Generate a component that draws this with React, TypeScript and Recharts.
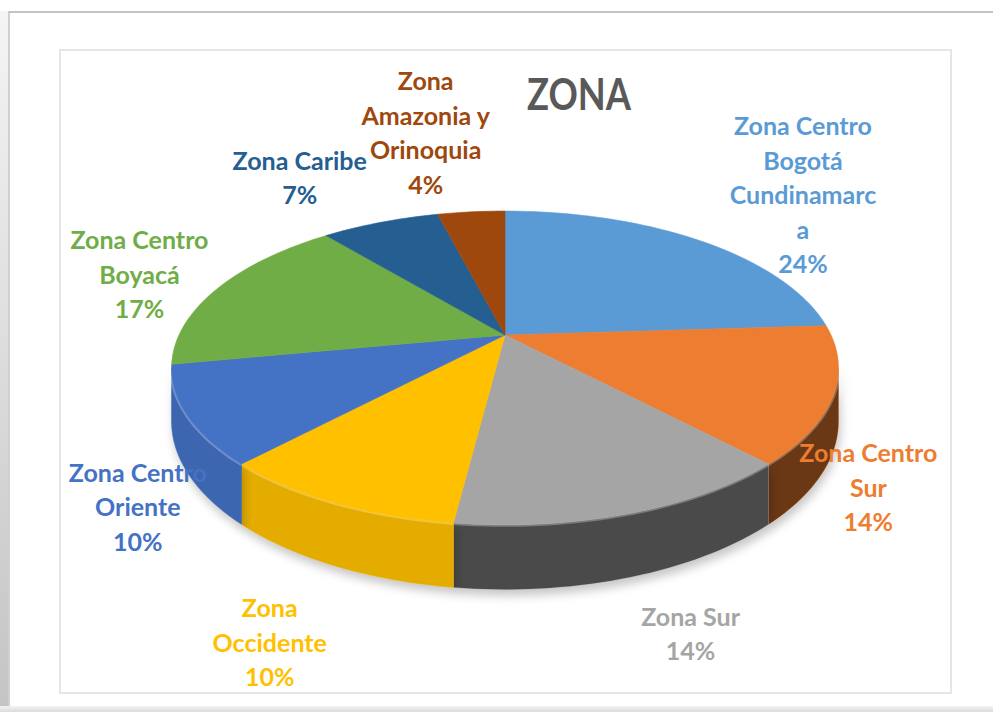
import { PieChart, Pie } from "recharts"

// slices, clockwise from 12 o'clock
const zones = [
  "Zona Centro Bogotá Cundinamarca",
  "Zona Centro Sur",
  "Zona Sur",
  "Zona Occidente",
  "Zona Centro Oriente",
  "Zona Centro Boyacá",
  "Zona Caribe",
  "Zona Amazonia y Orinoquia",
]
const labelLines = [
  ["Zona Centro", "Bogotá", "Cundinamarc", "a"],
  ["Zona Centro", "Sur"],
  ["Zona Sur"],
  ["Zona", "Occidente"],
  ["Zona Centro", "Oriente"],
  ["Zona Centro", "Boyacá"],
  ["Zona Caribe"],
  ["Zona", "Amazonia y", "Orinoquia"],
]
const shares = [24, 14, 14, 10, 10, 17, 7, 4]
const colors = ["#5B9BD5", "#ED7D31", "#A5A5A5", "#FFC000", "#4472C4", "#70AD47", "#255E91", "#9E480E"]

// small hand tweaks of the "best fit" label placement (dx, dy)
const labelNudge = [[-5, 0], [-12, 1], [12, -8], [-18, 13], [-7, -10], [13, -24], [22, 26], [13, 8]]

const data = zones.map((name, i) => ({ name, value: shares[i] }))

// fake 3D: tilted disc seen in perspective
const TILT = 0.46
const PERSP = 0.21
const DEPTH = 51
const VIS_HI = (-Math.asin(PERSP) * 180) / Math.PI
const VIS_LO = -180 - VIS_HI

const LABEL_RX = 395
const LABEL_RY = 266
const LABEL_DY = 54
const LINE_H = 34.5

const rad = (d: number) => (d * Math.PI) / 180

function proj(cx: number, cy: number, r: number, deg: number, drop = 0) {
  const s = Math.sin(rad(deg))
  const c = Math.cos(rad(deg))
  const w = 1 + PERSP * s
  return [cx + (r * c) / w, cy - (r * TILT * s) / w + drop / w]
}

function arc(cx: number, cy: number, r: number, from: number, to: number, drop = 0) {
  const n = Math.max(2, Math.ceil(Math.abs(from - to) / 1.5))
  const pts: number[][] = []
  for (let k = 0; k <= n; k++) pts.push(proj(cx, cy, r, from + ((to - from) * k) / n, drop))
  return pts
}

const toPath = (pts: number[][], close = true) =>
  pts.map((p, k) => `${k ? "L" : "M"}${p[0].toFixed(2)},${p[1].toFixed(2)}`).join("") + (close ? "Z" : "")

const renderSide = (p: any) => {
  const { cx, cy, outerRadius, startAngle, endAngle, midAngle, index } = p
  const hi = Math.min(Math.max(startAngle, endAngle), VIS_HI)
  const lo = Math.max(Math.min(startAngle, endAngle), VIS_LO)
  if (hi <= lo) return <g />
  const top = arc(cx, cy, outerRadius, hi, lo)
  const bottom = arc(cx, cy, outerRadius, lo, hi, DEPTH)
  const d = toPath([...top, ...bottom])
  const c = Math.cos(rad(midAngle))
  const shade = 0.1 + 0.45 * Math.min(1, Math.max(0, (c + 0.1) / 0.4))
  return (
    <g className="pie-side">
      <path d={d} fill={colors[index]} stroke={colors[index]} strokeWidth={0.6} />
      <path d={d} fill="#000" fillOpacity={shade} />
      <path d={toPath(top, false)} fill="none" stroke="#fff" strokeOpacity={0.28} strokeWidth={4} />
    </g>
  )
}

const renderTop = (p: any) => {
  const { cx, cy, outerRadius, startAngle, endAngle, index } = p
  const pts = [[cx, cy], ...arc(cx, cy, outerRadius, startAngle, endAngle)]
  return <path d={toPath(pts)} fill={colors[index]} stroke={colors[index]} strokeWidth={0.6} />
}

const renderText = (p: any) => {
  const { cx, cy, midAngle, percent, index } = p
  const c = Math.cos(rad(midAngle))
  const s = Math.sin(rad(midAngle))
  const [nx, ny] = labelNudge[index]
  const x = cx + LABEL_RX * Math.sign(c) * Math.pow(Math.abs(c), 0.7) + nx
  const yc = cy + LABEL_DY - LABEL_RY * s + ny
  const lines = [...labelLines[index], `${Math.round(percent * 100)}%`]
  const y0 = yc - ((lines.length - 1) / 2) * LINE_H + 9
  return (
    <text x={x} y={y0} textAnchor="middle" fill={colors[index]} fontFamily="Lato" fontWeight={700} fontSize={25}>
      {lines.map((t, k) => (
        <tspan key={k} x={x} dy={k === 0 ? 0 : LINE_H}>
          {t}
        </tspan>
      ))}
    </text>
  )
}

export default function App() {
  const pieProps = {
    data,
    dataKey: "value",
    nameKey: "name",
    cx: 505,
    cy: 335,
    outerRadius: 326,
    startAngle: 90,
    endAngle: -270,
    fill: "none",
    stroke: "none",
    labelLine: false,
    isAnimationActive: false,
  }
  return (
    <div style={{ position: "fixed", left: 0, top: 0, width: 993, height: 712, background: "#fff", overflow: "hidden" }}>
      <style>{`.pie-side { filter: drop-shadow(2px 6px 5px rgba(0,0,0,0.22)); }`}</style>
      {/* card frame */}
      <div style={{ position: "absolute", left: 0, top: 11, width: 8, height: 701, background: "linear-gradient(#f4f4f4, #c4c4c4)" }} />
      <div style={{ position: "absolute", left: 8, top: 11, width: 985, height: 699, borderTop: "2px solid #c3c3c3", borderLeft: "2px solid #d0d0d0", boxSizing: "border-box" }} />
      <div style={{ position: "absolute", left: 0, top: 706, width: 993, height: 6, background: "linear-gradient(#f2f2f2, #dcdcdc)" }} />
      {/* chart area */}
      <div style={{ position: "absolute", left: 59, top: 49, width: 893, height: 645, border: "2px solid #e6e6e6", boxSizing: "border-box" }} />
      <svg style={{ position: "absolute", left: 0, top: 0 }} width={993} height={712}>
        <text x={579} y={110} textAnchor="middle" fontFamily="Lato" fontWeight={700} fontSize={44} fill="#595959" textLength={104} lengthAdjust="spacingAndGlyphs">
          ZONA
        </text>
      </svg>
      <div style={{ position: "absolute", left: 0, top: 0 }}>
        <PieChart width={993} height={712} margin={{ top: 0, right: 0, bottom: 0, left: 0 }}>
          <Pie {...pieProps} label={renderSide} />
          <Pie {...pieProps} label={renderTop} />
          <Pie {...pieProps} label={renderText} />
        </PieChart>
      </div>
    </div>
  )
}
